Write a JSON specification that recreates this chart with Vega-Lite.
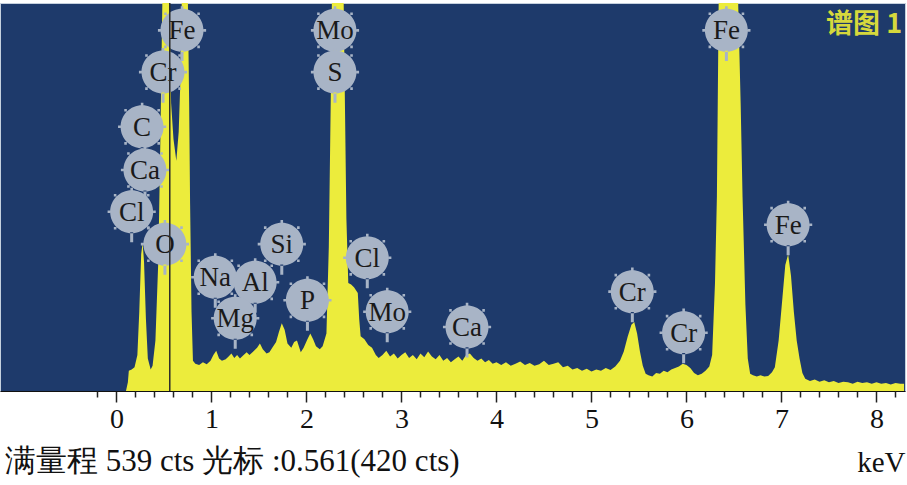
{
  "$schema": "https://vega.github.io/schema/vega-lite/v6.json",
  "width": 905,
  "height": 388,
  "autosize": {"type": "none"},
  "padding": {"left": 0, "top": 3, "right": 2, "bottom": 94},
  "background": "white",
  "config": {
    "view": {"fill": "#1e3a6b", "stroke": "#c5d0de", "strokeWidth": 1}
  },
  "title": {
    "text": "满量程 539 cts 光标 :0.561(420 cts)",
    "orient": "bottom",
    "anchor": "start",
    "font": "Liberation Serif",
    "fontSize": 31,
    "fontWeight": "normal",
    "color": "#111111",
    "dx": 5,
    "offset": -30
  },
  "resolve": {"axis": {"x": "independent"}},
  "datasets": {
    "spectrum": [
      {"e": 0.10, "c": 0}, {"e": 0.12, "c": 12}, {"e": 0.13, "c": 28}, {"e": 0.16, "c": 30}, {"e": 0.19, "c": 33},
      {"e": 0.22, "c": 50}, {"e": 0.24, "c": 110}, {"e": 0.26, "c": 190}, {"e": 0.275, "c": 206}, {"e": 0.29, "c": 180},
      {"e": 0.31, "c": 100}, {"e": 0.33, "c": 45}, {"e": 0.36, "c": 30}, {"e": 0.38, "c": 35}, {"e": 0.41, "c": 70},
      {"e": 0.44, "c": 180}, {"e": 0.46, "c": 330}, {"e": 0.485, "c": 560}, {"e": 0.52, "c": 900}, {"e": 0.555, "c": 560},
      {"e": 0.575, "c": 400}, {"e": 0.60, "c": 350}, {"e": 0.63, "c": 320}, {"e": 0.655, "c": 360}, {"e": 0.67, "c": 420},
      {"e": 0.69, "c": 560}, {"e": 0.72, "c": 1000}, {"e": 0.75, "c": 560}, {"e": 0.765, "c": 400}, {"e": 0.775, "c": 260},
      {"e": 0.79, "c": 110}, {"e": 0.805, "c": 42}, {"e": 0.83, "c": 38}, {"e": 0.87, "c": 36}, {"e": 0.91, "c": 40},
      {"e": 0.95, "c": 37}, {"e": 0.99, "c": 42}, {"e": 1.02, "c": 50}, {"e": 1.05, "c": 56}, {"e": 1.08, "c": 45},
      {"e": 1.11, "c": 42}, {"e": 1.15, "c": 44}, {"e": 1.18, "c": 48}, {"e": 1.21, "c": 52}, {"e": 1.24, "c": 46},
      {"e": 1.27, "c": 50}, {"e": 1.30, "c": 45}, {"e": 1.33, "c": 49}, {"e": 1.37, "c": 54}, {"e": 1.40, "c": 50},
      {"e": 1.44, "c": 55}, {"e": 1.48, "c": 60}, {"e": 1.51, "c": 66}, {"e": 1.54, "c": 58}, {"e": 1.58, "c": 52},
      {"e": 1.61, "c": 54}, {"e": 1.64, "c": 60}, {"e": 1.68, "c": 68}, {"e": 1.71, "c": 82}, {"e": 1.74, "c": 94},
      {"e": 1.77, "c": 85}, {"e": 1.80, "c": 66}, {"e": 1.84, "c": 60}, {"e": 1.87, "c": 68}, {"e": 1.90, "c": 70},
      {"e": 1.94, "c": 54}, {"e": 1.97, "c": 60}, {"e": 2.01, "c": 72}, {"e": 2.04, "c": 80}, {"e": 2.07, "c": 72},
      {"e": 2.10, "c": 62}, {"e": 2.14, "c": 58}, {"e": 2.17, "c": 62}, {"e": 2.21, "c": 80}, {"e": 2.235, "c": 200},
      {"e": 2.26, "c": 450}, {"e": 2.28, "c": 700}, {"e": 2.32, "c": 1200}, {"e": 2.37, "c": 800}, {"e": 2.395, "c": 500},
      {"e": 2.42, "c": 240}, {"e": 2.44, "c": 150}, {"e": 2.47, "c": 148}, {"e": 2.50, "c": 144}, {"e": 2.54, "c": 136},
      {"e": 2.555, "c": 100}, {"e": 2.57, "c": 76}, {"e": 2.61, "c": 72}, {"e": 2.65, "c": 64}, {"e": 2.69, "c": 60},
      {"e": 2.73, "c": 50}, {"e": 2.76, "c": 46}, {"e": 2.80, "c": 50}, {"e": 2.84, "c": 56}, {"e": 2.88, "c": 48},
      {"e": 2.92, "c": 52}, {"e": 2.96, "c": 45}, {"e": 3.00, "c": 50}, {"e": 3.04, "c": 54}, {"e": 3.08, "c": 46},
      {"e": 3.12, "c": 50}, {"e": 3.16, "c": 44}, {"e": 3.20, "c": 52}, {"e": 3.24, "c": 47}, {"e": 3.28, "c": 55},
      {"e": 3.32, "c": 48}, {"e": 3.36, "c": 44}, {"e": 3.40, "c": 50}, {"e": 3.44, "c": 42}, {"e": 3.48, "c": 46},
      {"e": 3.52, "c": 40}, {"e": 3.56, "c": 44}, {"e": 3.60, "c": 48}, {"e": 3.64, "c": 42}, {"e": 3.68, "c": 50},
      {"e": 3.72, "c": 52}, {"e": 3.76, "c": 46}, {"e": 3.80, "c": 42}, {"e": 3.84, "c": 45}, {"e": 3.88, "c": 40},
      {"e": 3.92, "c": 43}, {"e": 3.96, "c": 38}, {"e": 4.00, "c": 40}, {"e": 4.05, "c": 36}, {"e": 4.10, "c": 40},
      {"e": 4.15, "c": 35}, {"e": 4.20, "c": 38}, {"e": 4.25, "c": 41}, {"e": 4.30, "c": 36}, {"e": 4.35, "c": 39},
      {"e": 4.40, "c": 35}, {"e": 4.45, "c": 37}, {"e": 4.50, "c": 42}, {"e": 4.55, "c": 36}, {"e": 4.60, "c": 38},
      {"e": 4.65, "c": 40}, {"e": 4.70, "c": 33}, {"e": 4.75, "c": 35}, {"e": 4.80, "c": 30}, {"e": 4.85, "c": 32},
      {"e": 4.90, "c": 28}, {"e": 4.95, "c": 31}, {"e": 5.00, "c": 27}, {"e": 5.05, "c": 30}, {"e": 5.10, "c": 28},
      {"e": 5.15, "c": 32}, {"e": 5.20, "c": 29}, {"e": 5.25, "c": 34}, {"e": 5.30, "c": 42}, {"e": 5.34, "c": 55},
      {"e": 5.38, "c": 75}, {"e": 5.42, "c": 92}, {"e": 5.45, "c": 96}, {"e": 5.48, "c": 80}, {"e": 5.51, "c": 55},
      {"e": 5.54, "c": 35}, {"e": 5.57, "c": 24}, {"e": 5.60, "c": 22}, {"e": 5.64, "c": 20}, {"e": 5.68, "c": 25},
      {"e": 5.72, "c": 24}, {"e": 5.76, "c": 28}, {"e": 5.80, "c": 26}, {"e": 5.84, "c": 30}, {"e": 5.88, "c": 32},
      {"e": 5.92, "c": 34}, {"e": 5.96, "c": 38}, {"e": 6.00, "c": 36}, {"e": 6.04, "c": 32}, {"e": 6.08, "c": 25},
      {"e": 6.12, "c": 22}, {"e": 6.16, "c": 24}, {"e": 6.20, "c": 28}, {"e": 6.24, "c": 34}, {"e": 6.27, "c": 50},
      {"e": 6.30, "c": 150}, {"e": 6.32, "c": 270}, {"e": 6.34, "c": 560}, {"e": 6.44, "c": 1800}, {"e": 6.54, "c": 560},
      {"e": 6.57, "c": 400}, {"e": 6.59, "c": 270}, {"e": 6.62, "c": 120}, {"e": 6.645, "c": 45}, {"e": 6.67, "c": 24},
      {"e": 6.70, "c": 22}, {"e": 6.74, "c": 20}, {"e": 6.78, "c": 22}, {"e": 6.82, "c": 20}, {"e": 6.86, "c": 21},
      {"e": 6.90, "c": 26}, {"e": 6.93, "c": 33}, {"e": 6.97, "c": 70}, {"e": 7.01, "c": 130}, {"e": 7.04, "c": 175},
      {"e": 7.07, "c": 190}, {"e": 7.10, "c": 160}, {"e": 7.13, "c": 110}, {"e": 7.16, "c": 70}, {"e": 7.19, "c": 45},
      {"e": 7.22, "c": 25}, {"e": 7.25, "c": 17}, {"e": 7.30, "c": 14}, {"e": 7.35, "c": 16}, {"e": 7.40, "c": 13},
      {"e": 7.45, "c": 15}, {"e": 7.50, "c": 12}, {"e": 7.55, "c": 14}, {"e": 7.60, "c": 11}, {"e": 7.65, "c": 13},
      {"e": 7.70, "c": 12}, {"e": 7.75, "c": 10}, {"e": 7.80, "c": 13}, {"e": 7.85, "c": 11}, {"e": 7.90, "c": 12},
      {"e": 7.95, "c": 10}, {"e": 8.00, "c": 12}, {"e": 8.05, "c": 10}, {"e": 8.10, "c": 11}, {"e": 8.15, "c": 9},
      {"e": 8.20, "c": 11}, {"e": 8.25, "c": 10}, {"e": 8.29, "c": 10}
    ],
    "labels": [
      {"el": "Fe", "e": 0.69, "c": 501}, {"el": "Cr", "e": 0.49, "c": 443}, {"el": "C", "e": 0.27, "c": 367},
      {"el": "Ca", "e": 0.30, "c": 307}, {"el": "Cl", "e": 0.16, "c": 249}, {"el": "O", "e": 0.51, "c": 204},
      {"el": "Na", "e": 1.04, "c": 158}, {"el": "Al", "e": 1.46, "c": 151}, {"el": "Mg", "e": 1.25, "c": 101},
      {"el": "Si", "e": 1.74, "c": 204}, {"el": "P", "e": 2.01, "c": 126}, {"el": "Mo", "e": 2.30, "c": 501},
      {"el": "S", "e": 2.30, "c": 443}, {"el": "Cl", "e": 2.64, "c": 185}, {"el": "Mo", "e": 2.85, "c": 110},
      {"el": "Ca", "e": 3.69, "c": 89}, {"el": "Cr", "e": 5.43, "c": 138}, {"el": "Cr", "e": 5.97, "c": 81},
      {"el": "Fe", "e": 6.42, "c": 501}, {"el": "Fe", "e": 7.07, "c": 231}
    ],
    "cursor": [{"e": 0.561}],
    "tag": [{"t": "谱图 1", "e": 8.27, "c": 508}]
  },
  "layer": [
    {
      "data": {"name": "spectrum"},
      "mark": {"type": "area", "color": "#ecec3c", "clip": true, "interpolate": "linear"},
      "encoding": {
        "x": {
          "field": "e", "type": "quantitative",
          "scale": {"domain": [-1.226, 8.3], "nice": false, "zero": false},
          "axis": {
            "orient": "bottom",
            "title": "keV",
            "titleAnchor": "end",
            "titleAlign": "right",
            "titleBaseline": "alphabetic",
            "titleY": 80,
            "titleFont": "Liberation Serif",
            "titleFontSize": 29,
            "titleFontWeight": "normal",
            "titleColor": "#111111",
            "values": [0, 1, 2, 3, 4, 5, 6, 7, 8],
            "format": "d",
            "labelOverlap": false,
            "labelFlush": false,
            "labelFont": "Liberation Serif",
            "labelFontSize": 28,
            "labelColor": "#111111",
            "labelPadding": 3,
            "grid": false,
            "domainColor": "#111111",
            "domainWidth": 1.2,
            "tickColor": "#222222",
            "tickWidth": 1.5,
            "tickSize": 11
          }
        },
        "y": {
          "field": "c", "type": "quantitative",
          "scale": {"domain": [0, 539], "nice": false},
          "axis": null
        }
      }
    },
    {
      "data": {"name": "labels"},
      "mark": {
        "type": "point",
        "filled": true,
        "opacity": 1,
        "color": "#a8b4c6",
        "size": 1850,
        "shape": "M-1,0A1,1 0 1,0 1,0A1,1 0 1,0 -1,0Z M-0.07,0.95L0.07,0.95L0.07,1.42L-0.07,1.42Z M-0.06,-1.12L0.06,-1.12L0.06,-1.0L-0.06,-1.0Z M1.0,-0.06L1.12,-0.06L1.12,0.06L1.0,0.06Z M-1.12,-0.06L-1.0,-0.06L-1.0,0.06L-1.12,0.06Z M0.71,-0.83L0.83,-0.83L0.83,-0.71L0.71,-0.71Z M-0.83,-0.83L-0.71,-0.83L-0.71,-0.71L-0.83,-0.71Z M0.71,0.71L0.83,0.71L0.83,0.83L0.71,0.83Z M-0.83,0.71L-0.71,0.71L-0.71,0.83L-0.83,0.83Z"
      },
      "encoding": {
        "x": {"field": "e", "type": "quantitative", "axis": null},
        "y": {"field": "c", "type": "quantitative"}
      }
    },
    {
      "data": {"name": "labels"},
      "mark": {
        "type": "text",
        "font": "Liberation Serif",
        "fontSize": 27,
        "color": "#1a1a1a",
        "align": "center",
        "baseline": "middle",
        "dy": 1
      },
      "encoding": {
        "x": {"field": "e", "type": "quantitative", "axis": null},
        "y": {"field": "c", "type": "quantitative"},
        "text": {"field": "el"}
      }
    },
    {
      "data": {"name": "cursor"},
      "mark": {"type": "rule", "color": "#2a2a2a", "strokeWidth": 1.5},
      "encoding": {
        "x": {
          "field": "e", "type": "quantitative",
          "axis": {
            "orient": "bottom",
            "title": null,
            "values": [-0.2, 0.2, 0.4, 0.6, 0.8, 1.2, 1.4, 1.6, 1.8, 2.2, 2.4, 2.6, 2.8, 3.2, 3.4, 3.6, 3.8, 4.2, 4.4, 4.6, 4.8, 5.2, 5.4, 5.6, 5.8, 6.2, 6.4, 6.6, 6.8, 7.2, 7.4, 7.6, 7.8, 8.2],
            "labels": false,
            "domain": false,
            "grid": false,
            "tickColor": "#222222",
            "tickWidth": 1.5,
            "tickSize": 6
          }
        }
      }
    },
    {
      "data": {"name": "tag"},
      "mark": {
        "type": "text",
        "font": "Noto Sans CJK SC",
        "fontSize": 27,
        "fontWeight": "bold",
        "color": "#d6d83c",
        "align": "right",
        "baseline": "middle"
      },
      "encoding": {
        "x": {"field": "e", "type": "quantitative", "axis": null},
        "y": {"field": "c", "type": "quantitative"},
        "text": {"field": "t"}
      }
    }
  ]
}
